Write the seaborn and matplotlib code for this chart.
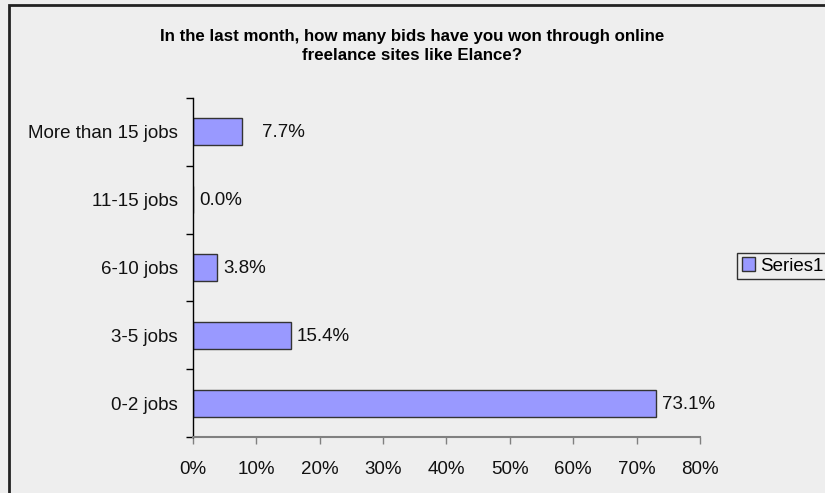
import matplotlib
matplotlib.use("Agg")
import matplotlib.pyplot as plt
import numpy as np
import pandas as pd
import seaborn as sns
from matplotlib.patches import Rectangle, Patch
from matplotlib.ticker import PercentFormatter

# data, top to bottom as drawn
jobs = ["More than 15 jobs", "11-15 jobs", "6-10 jobs", "3-5 jobs", "0-2 jobs"]
share = [7.7, 0.0, 3.8, 15.4, 73.1]
series = "Series1"

BG = "#EEEEEE"
BAR = "#9999FF"

sns.set_theme(style="white")
plt.rcParams["font.family"] = ["Liberation Sans", "DejaVu Sans"]
plt.rcParams["text.color"] = "black"

df = pd.DataFrame({"jobs": jobs, "share": share})

fig = plt.figure(figsize=(8.25, 4.93), dpi=100, facecolor=BG)
ax = fig.add_axes([193 / 825, 1 - 437 / 493, (700 - 193) / 825, (437 - 98) / 493])
ax.set_facecolor(BG)

sns.barplot(data=df, x="share", y="jobs", order=jobs, color=BAR, width=0.4,
            edgecolor="#333333", linewidth=1, saturation=1, ax=ax)

# labels next to the bars
for i, v in enumerate(share):
    pad = 20 if i == 0 else 6
    ax.annotate(f"{v:.1f}%", (v, i), xytext=(pad, -1), textcoords="offset pixels",
                va="center", ha="left", fontsize=13.5, color="#111111")

ax.set_xlim(0, 80)
ax.set_ylim(len(jobs) - 0.5, -0.5)
ax.set_xticks(np.arange(0, 81, 10))
ax.xaxis.set_major_formatter(PercentFormatter(decimals=0))

# y ticks on the band edges, labels in the middle
ax.set_yticks(np.arange(-0.5, len(jobs), 1))
ax.set_yticklabels([])
ax.set_yticks(range(len(jobs)), minor=True)
ax.set_yticklabels(jobs, minor=True)
ax.tick_params(axis="y", which="major", left=True, length=5, width=1, color="black")
ax.tick_params(axis="y", which="minor", left=True, length=0, pad=11, labelsize=13.5,
               labelcolor="#111111")
ax.tick_params(axis="x", bottom=True, length=5, width=1, color="#808080", pad=12,
               labelsize=13.5, labelcolor="#111111")

ax.set_xlabel("")
ax.set_ylabel("")
for s in ["top", "right"]:
    ax.spines[s].set_visible(False)
ax.spines["left"].set_color("black")
ax.spines["left"].set_linewidth(1)
ax.spines["bottom"].set_color("#808080")
ax.spines["bottom"].set_linewidth(1.5)

fig.text(412 / 825, 1 - 46 / 493,
         "In the last month, how many bids have you won through online\nfreelance sites like Elance?",
         ha="center", va="center", fontsize=12.2, fontweight="bold", linespacing=1.35,
         color="black")

fig.legend(handles=[Patch(facecolor=BAR, edgecolor="#333333", label=series)],
           loc="center left", bbox_to_anchor=(737 / 825, 1 - 266 / 493),
           frameon=True, fancybox=False, edgecolor="black", facecolor=BG,
           fontsize=13.5, handlelength=0.7, handleheight=0.7, handletextpad=0.3,
           borderpad=0.25, borderaxespad=0)

# outer chart border (cropped on the right and bottom)
fig.patches.append(Rectangle((9 / 825, -0.1), 1.2, 1.1 - 5 / 493, transform=fig.transFigure,
                             fill=False, edgecolor="#222222", linewidth=2))

fig.savefig("out.png", dpi=100, facecolor=BG)
